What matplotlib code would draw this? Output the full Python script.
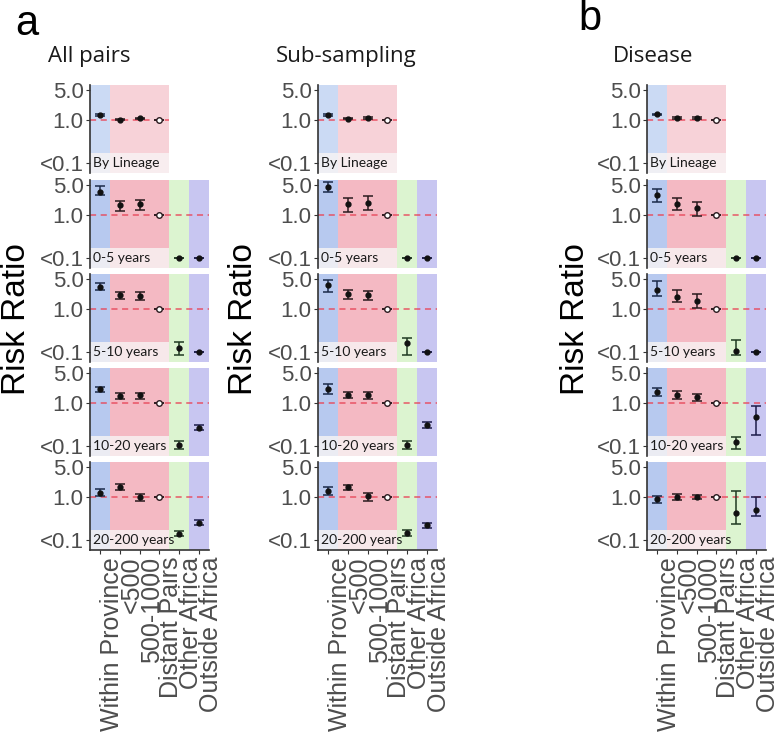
import matplotlib.pyplot as plt
from matplotlib.patches import Rectangle

# Categorias e rotulos
categories = ["Within Province", "<500", "500-1000", "Distant Pairs", "Other Africa", "Outside Africa"]
row_labels = ["By Lineage", "0-5 years", "5-10 years", "10-20 years", "20-200 years"]
titles = ["All pairs", "Sub-sampling", "Disease"]

# Risk ratios (linha = faixa de tempo)
all_pairs_rr = [[1.30, 1.02, 1.08, 1.0],
                [3.5, 1.66, 1.75, 1.0, 0.1, 0.1],
                [3.3, 2.06, 1.99, 1.0, 0.12, 0.1],
                [2.06, 1.44, 1.49, 1.0, 0.105, 0.26],
                [1.26, 1.69, 1.0, 1.0, 0.14, 0.25]]
all_pairs_lo = [[1.24, 0.99, 1.04, 1.0],
                [2.85, 1.26, 1.33, 0.98, 0.1, 0.1],
                [2.75, 1.66, 1.6, 0.98, 0.085, 0.1],
                [1.81, 1.24, 1.26, 0.98, 0.083, 0.23],
                [1.05, 1.44, 0.8, 0.98, 0.12, 0.22]]
all_pairs_hi = [[1.36, 1.05, 1.12, 1.0],
                [4.7, 2.1, 2.2, 1.02, 0.1, 0.1],
                [3.96, 2.47, 2.47, 1.02, 0.174, 0.1],
                [2.38, 1.69, 1.72, 1.02, 0.13, 0.30],
                [1.51, 1.95, 1.2, 1.02, 0.165, 0.29]]

subsampling_rr = [[1.29, 1.07, 1.11, 1.0],
                  [4.4, 1.78, 1.88, 1.0, 0.1, 0.1],
                  [3.54, 2.2, 2.06, 1.0, 0.158, 0.1],
                  [2.06, 1.51, 1.51, 1.0, 0.105, 0.31],
                  [1.36, 1.69, 1.04, 1.0, 0.142, 0.22]]
subsampling_lo = [[1.22, 1.03, 1.06, 1.0],
                  [3.35, 1.2, 1.31, 0.98, 0.1, 0.1],
                  [2.47, 1.72, 1.57, 0.98, 0.085, 0.1],
                  [1.57, 1.31, 1.26, 0.98, 0.083, 0.26],
                  [1.13, 1.44, 0.79, 0.98, 0.12, 0.19]]
subsampling_hi = [[1.37, 1.11, 1.16, 1.0],
                  [5.77, 2.47, 2.7, 1.02, 0.1, 0.1],
                  [4.6, 2.7, 2.6, 1.02, 0.215, 0.1],
                  [2.7, 1.78, 1.81, 1.02, 0.13, 0.36],
                  [1.69, 1.92, 1.24, 1.02, 0.17, 0.25]]

disease_rr = [[1.34, 1.1, 1.11, 1.0],
              [2.95, 1.78, 1.44, 1.0, 0.1, 0.1],
              [2.75, 1.92, 1.54, 1.0, 0.105, 0.1],
              [1.81, 1.51, 1.34, 1.0, 0.12, 0.47],
              [0.88, 1.0, 0.98, 1.0, 0.42, 0.5]]
disease_lo = [[1.28, 1.05, 1.06, 1.0],
              [1.95, 1.29, 0.96, 0.98, 0.1, 0.1],
              [2.02, 1.44, 1.07, 0.98, 0.083, 0.1],
              [1.46, 1.26, 1.1, 0.98, 0.083, 0.18],
              [0.74, 0.85, 0.88, 0.98, 0.23, 0.35]]
disease_hi = [[1.40, 1.15, 1.16, 1.0],
              [4.0, 2.47, 1.99, 1.02, 0.1, 0.1],
              [4.4, 2.75, 2.25, 1.02, 0.19, 0.1],
              [2.25, 1.92, 1.63, 1.02, 0.165, 0.83],
              [1.03, 1.16, 1.1, 1.02, 1.36, 1.0]]

columns = [(all_pairs_rr, all_pairs_lo, all_pairs_hi),
           (subsampling_rr, subsampling_lo, subsampling_hi),
           (disease_rr, disease_lo, disease_hi)]

# Cores
bg_first = ["#cbdaf4", "#f7d2d8", "#f7d2d8", "#f7d2d8"]
bg_other = ["#b7c9ef", "#f4b9c3", "#f4b9c3", "#f4b9c3", "#dcf4d0", "#c8c6f1"]
bar_colors = ["#1b2a4a", "#2a1a1e", "#2a1a1e", "#2a1a1e", "#1f3a22", "#1c1c4a"]
tick_gray = "#4d4d4d"

W, H = 780, 738
fig = plt.figure(figsize=(W / 100, H / 100), dpi=100)


def px_rect(left, top, w, h):
    return [left / W, 1 - (top + h) / H, w / W, h / H]


col_left = [90, 318, 647]
row_top = [85, 180, 274, 368, 462]
row_h = 88
cat_w = 119 / 6

for c, (rr, lo, hi) in enumerate(columns):
    for r in range(5):
        n = len(rr[r])
        ax = fig.add_axes(px_rect(col_left[c], row_top[r], cat_w * n, row_h))
        ax.set_yscale("log")
        ax.set_ylim(0.058, 6.5)
        ax.set_xlim(0.5, n + 0.5)
        colors = bg_first if r == 0 else bg_other
        for i in range(n):
            ax.axvspan(i + 0.5, i + 1.5, color=colors[i], lw=0, zorder=0)
        # caixa do rotulo
        ax.add_patch(Rectangle((0, 0), 4 / n, 0.23, transform=ax.transAxes,
                               facecolor="#f9f5f5", alpha=0.8, lw=0, zorder=1))
        ax.text(0.022 * 6 / n, 0.115, row_labels[r], transform=ax.transAxes,
                fontsize=10, family="Lato", va="center", ha="left",
                color="#1a1a1a", zorder=5)
        ax.axhline(1.0, color="#e8475a", lw=1.1, ls=(0, (4, 3)), alpha=0.9, zorder=2)
        for i in range(n):
            x = i + 1
            ax.errorbar([x], [rr[r][i]],
                        yerr=[[rr[r][i] - lo[r][i]], [hi[r][i] - rr[r][i]]],
                        fmt="none", ecolor=bar_colors[i], elinewidth=1.1,
                        capsize=3.6, capthick=1.1, zorder=3)
            if i == 3:
                ax.plot([x], [rr[r][i]], marker="o", ms=4, mfc="white",
                        mec="#2a1a1e", mew=1.0, zorder=4)
            else:
                ax.plot([x], [rr[r][i]], marker="o", ms=3.5, color="#111111",
                        zorder=4)

        for s in ["top", "right", "bottom"]:
            ax.spines[s].set_visible(False)
        ax.spines["left"].set_color("#333333")
        ax.spines["left"].set_linewidth(1.2)
        ax.set_yticks([0.1, 1.0, 5.0])
        ax.set_yticklabels(["<0.1", "1.0", "5.0"])
        ax.minorticks_off()
        ax.tick_params(axis="y", length=3, width=0.8, color="#333333",
                       labelsize=16, labelcolor=tick_gray, pad=1.5)
        for lab in ax.get_yticklabels():
            lab.set_family("Liberation Sans")
        ax.set_xticks(range(1, n + 1))
        if r == 4:
            ax.spines["bottom"].set_visible(True)
            ax.spines["bottom"].set_color("#333333")
            ax.spines["bottom"].set_linewidth(1.2)
            ax.set_xticklabels(categories)
            ax.tick_params(axis="x", length=3, width=0.8, color="#333333",
                           labelsize=18, labelcolor=tick_gray, pad=2)
            for lab in ax.get_xticklabels():
                lab.set_rotation(90)
                lab.set_ha("left")
                lab.set_va("top")
                lab.set_family("Liberation Sans")
        else:
            ax.tick_params(axis="x", length=0, labelbottom=False)

# Titulos das colunas
title_x = [48, 276, 613]
for c in range(3):
    fig.text(title_x[c] / W, 1 - 62 / H, titles[c], fontsize=16, family="Open Sans",
             color="#1a1a1a", ha="left", va="baseline")

# Rotulo do eixo y
ylab_x = [17, 244, 575]
for c in range(3):
    fig.text(ylab_x[c] / W, 1 - 319 / H, "Risk Ratio", fontsize=24, rotation=90,
             family="Liberation Sans", ha="center", va="center", color="black")

fig.text(15 / W, 1 - 35 / H, "a", fontsize=30, family="Liberation Sans", va="baseline")
fig.text(578 / W, 1 - 30 / H, "b", fontsize=30, family="Liberation Sans", va="baseline")

plt.savefig("out.png", dpi=100)
